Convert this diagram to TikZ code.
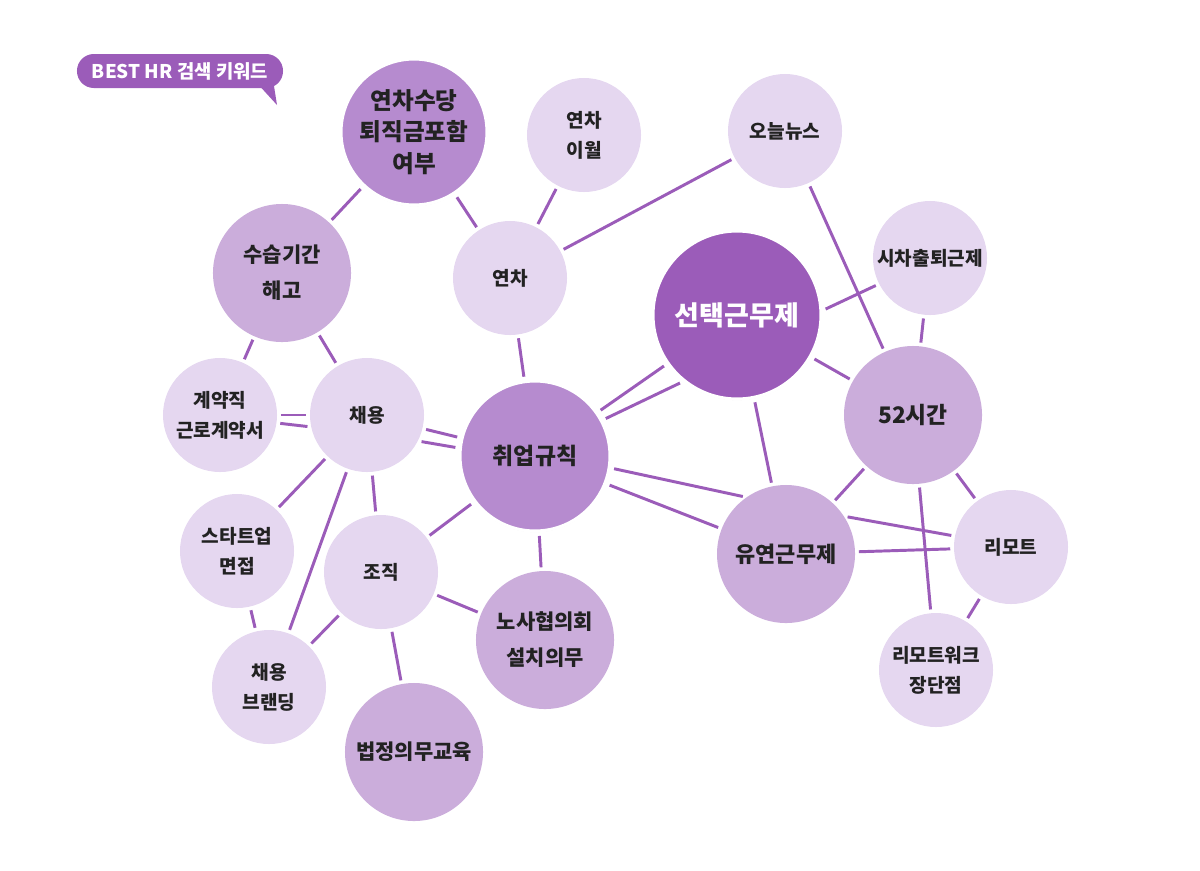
\documentclass[tikz,border=0pt]{standalone}
\usepackage{fontspec}
\setmainfont{Noto Sans CJK KR}
\usetikzlibrary{shadows, backgrounds}

\definecolor{deeppurple}{HTML}{9B5CB9}
\definecolor{corepurple}{HTML}{B68BCF}
\definecolor{midpurple}{HTML}{CBADDB}
\definecolor{palepurple}{HTML}{E5D7F0}
\definecolor{inkgray}{HTML}{222222}

\begin{document}
\begin{tikzpicture}[
    x=0.025cm, y=-0.025cm,
    bubble/.style={circle, inner sep=0pt, align=center, text=inkgray},
    leaf/.style={bubble, fill=palepurple, minimum size=2.85cm, font=\bfseries\fontsize{13.6}{21.3}\selectfont},
    topic/.style={bubble, fill=midpurple, minimum size=3.45cm, font=\bfseries\fontsize{14.9}{25.6}\selectfont},
    core/.style={bubble, fill=corepurple, draw=white, line width=2.2pt, drop shadow={shadow xshift=0pt, shadow yshift=-0.8pt, opacity=0.22}},
    badge/.style={rectangle, fill=deeppurple, text=white, rounded corners=12pt, minimum width=5.15cm, minimum height=0.85cm, inner sep=0pt, font=\bfseries\fontsize{13.4}{14}\selectfont},
    link/.style={draw=deeppurple, line width=2.1pt, shorten <=2.5pt, shorten >=2.5pt}
  ]
    \useasboundingbox (0,0) rectangle (1200,870);

    % Title badge
    \node[badge] (badge) at (180,71) {BEST HR 검색 키워드};
    \coordinate (tip) at (277,105);
    \fill[deeppurple] ([xshift=-19pt, yshift=4pt]badge.south east) -- ([xshift=-7pt, yshift=4pt]badge.south east) -- (tip) -- cycle;

    % Upper row
    \node[core, minimum size=3.65cm, font=\bfseries\fontsize{16.8}{22.6}\selectfont] (annual) at (414,132) {연차수당\\퇴직금포함\\여부};
    \node[leaf] (carry) at (584,135) {연차\\이월};
    \node[leaf] (news) at (785,131) {오늘뉴스};
    \node[topic] (probation) at (282,273) {수습기간\\해고};
    \node[leaf] (leave) at (510,278) {연차};
    \node[core, fill=deeppurple, text=white, minimum size=4.2cm, font=\bfseries\fontsize{19.2}{21}\selectfont] (select) at (737,315) {선택근무제};
    \node[leaf] (stagger) at (930,258) {시차출퇴근제};

    % Middle row
    \node[leaf] (contract) at (220,415) {계약직\\근로계약서};
    \node[leaf] (hiring) at (367,415) {채용};
    \node[core, minimum size=3.75cm, font=\bfseries\fontsize{16.3}{20}\selectfont] (rules) at (535,456) {취업규칙};
    \node[topic, font=\bfseries\fontsize{16.2}{20}\selectfont] (hours) at (913,415) {52시간};

    % Lower rows
    \node[leaf] (startup) at (237,551) {스타트업\\면접};
    \node[leaf] (org) at (381,572) {조직};
    \node[topic, font=\bfseries\fontsize{15.6}{20}\selectfont] (flexible) at (786,554) {유연근무제};
    \node[leaf] (remote) at (1011,547) {리모트};
    \node[topic] (council) at (545,640) {노사협의회\\설치의무};
    \node[leaf] (branding) at (269,687) {채용\\브랜딩};
    \node[topic] (training) at (414,752) {법정의무교육};
    \node[leaf] (remotework) at (936,670) {리모트워크\\장단점};

    % Connections
    \begin{scope}[on background layer]
      \draw[link] (annual) -- (probation);
      \draw[link] (annual) -- (leave);
      \draw[link] (carry) -- (leave);
      \draw[link] (news) -- (leave);
      \draw[link] (news) -- (hours);
      \draw[link] (leave) -- (rules);
      \draw[link] (probation) -- (contract);
      \draw[link] (probation) -- (hiring);
      \draw[link] (contract) -- (hiring);
      \draw[link] (contract.-8) -- (hiring.192);
      \draw[link] (hiring) -- (rules);
      \draw[link] (hiring.-27) -- (rules.174);
      \draw[link] (hiring) -- (startup);
      \draw[link] (hiring) -- (branding);
      \draw[link] (hiring) -- (org);
      \draw[link] (rules) -- (org);
      \draw[link] (rules) -- (council);
      \draw[link] (rules) -- (select);
      \draw[link] (rules.28) -- (select.231);
      \draw[link] (rules) -- (flexible);
      \draw[link] (rules.-9) -- (flexible.125);
      \draw[link] (select) -- (flexible);
      \draw[link] (select.3) -- (stagger.207);
      \draw[link] (select) -- (hours);
      \draw[link] (stagger) -- (hours);
      \draw[link] (hours) -- (flexible);
      \draw[link] (hours) -- (remote);
      \draw[link] (hours) -- (remotework);
      \draw[link] (flexible) -- (remote);
      \draw[link] (flexible.33) -- (remote.169);
      \draw[link] (remote) -- (remotework);
      \draw[link] (startup) -- (branding);
      \draw[link] (org) -- (branding);
      \draw[link] (org) -- (council);
      \draw[link] (org) -- (training);
    \end{scope}

  \end{tikzpicture}
\end{document}
